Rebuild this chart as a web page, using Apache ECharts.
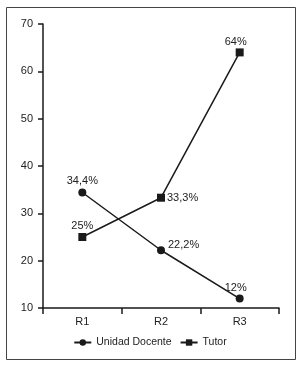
<!DOCTYPE html>
<html>
<head>
<meta charset="utf-8">
<script src="https://cdn.jsdelivr.net/npm/echarts@6/dist/echarts.min.js"></script>
<style>
  html, body { margin: 0; padding: 0; background: #fff; }
  #chart { width: 300px; height: 365px; }
</style>
</head>
<body>
<div id="chart"></div>
<script>
// categories and values
const rounds = ['R1', 'R2', 'R3']
const unidadDocente = [34.4, 22.2, 12]
const tutor = [25, 33.3, 64]
const unidadLabels = ['34,4%', '22,2%', '12%']
const tutorLabels = ['25%', '33,3%', '64%']

const ink = '#1a1a1a'
const font = 'Liberation Sans, Arial, sans-serif'

// per-point label placement
const unidadPos = [
  { position: 'top', offset: [0, 3] },
  { position: 'right', offset: [-2, -5] },
  { position: 'top', offset: [-4, 4] }
]
const tutorPos = [
  { position: 'top', offset: [0, 3] },
  { position: 'right', offset: [-3, 0] },
  { position: 'top', offset: [-4, 4] }
]

function buildData(values, labels, pos) {
  return values.map((v, i) => ({
    value: v,
    label: {
      show: true,
      formatter: labels[i],
      position: pos[i].position,
      offset: pos[i].offset
    }
  }))
}

const chart = echarts.init(document.getElementById('chart'), null, { renderer: 'canvas' })

const option = {
  backgroundColor: '#fff',
  animation: false,
  textStyle: { fontFamily: font },
  graphic: [{
    type: 'rect',
    shape: { x: 6.5, y: 7.5, width: 289, height: 352 },
    style: { fill: 'none', stroke: '#444', lineWidth: 1 },
    silent: true
  }],
  grid: { left: 43, right: 21, top: 24, bottom: 57 },
  xAxis: {
    type: 'category',
    data: rounds,
    boundaryGap: true,
    axisLine: { lineStyle: { color: ink, width: 1.5 } },
    axisTick: { show: true, interval: 0, length: 6, lineStyle: { color: ink, width: 1.5 } },
    axisLabel: { color: '#222', fontSize: 11, margin: 8, fontFamily: font },
    splitLine: { show: false }
  },
  yAxis: {
    type: 'value',
    min: 10,
    max: 70,
    interval: 10,
    axisLine: { show: true, lineStyle: { color: ink, width: 1.5 } },
    axisTick: { show: true, length: 5, lineStyle: { color: ink, width: 1.5 } },
    axisLabel: { color: '#222', fontSize: 11, margin: 10, fontFamily: font },
    splitLine: { show: false }
  },
  legend: {
    bottom: 12,
    left: 'center',
    itemWidth: 17,
    itemHeight: 8,
    itemGap: 8,
    textStyle: { color: '#222', fontSize: 10.5, fontFamily: font },
    data: ['Unidad Docente', 'Tutor']
  },
  series: [
    {
      name: 'Unidad Docente',
      type: 'line',
      data: buildData(unidadDocente, unidadLabels, unidadPos),
      symbol: 'circle',
      symbolSize: 8,
      lineStyle: { color: ink, width: 1.5 },
      itemStyle: { color: ink },
      label: { color: '#222', fontSize: 11, fontFamily: font }
    },
    {
      name: 'Tutor',
      type: 'line',
      data: buildData(tutor, tutorLabels, tutorPos),
      symbol: 'rect',
      symbolSize: 8,
      lineStyle: { color: ink, width: 1.5 },
      itemStyle: { color: ink },
      label: { color: '#222', fontSize: 11, fontFamily: font }
    }
  ]
}

chart.setOption(option)
</script>
</body>
</html>
